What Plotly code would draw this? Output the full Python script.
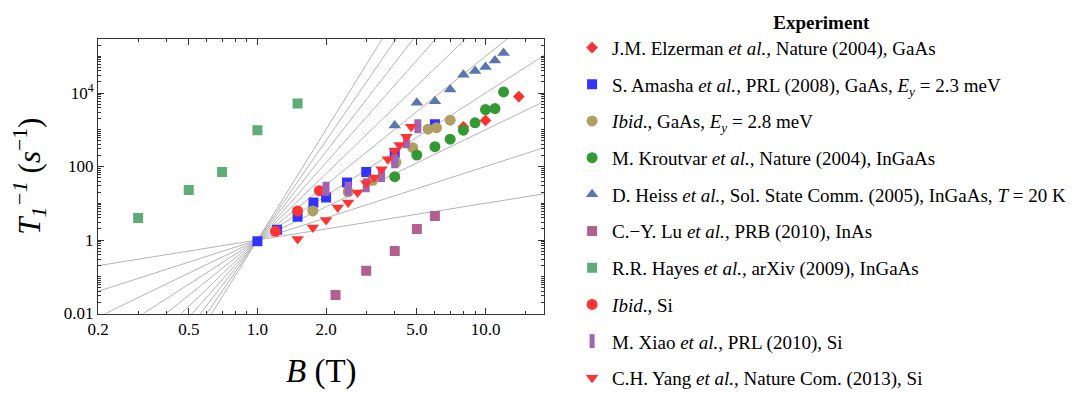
import numpy as np
import plotly.graph_objects as go

# ---- data ----
slopes = [1, 2, 3, 4, 5, 6, 7, 8, 9, 10]
guide_B = [0.1, 25.0]

elzerman_B = [8.0, 10.0, 14.0]
elzerman_r = [1200, 1800, 8000]

amasha_B = [1.0, 1.22, 1.5, 1.76, 2.0, 2.47, 3.0, 4.0, 6.0]
amasha_r = [0.92, 1.9, 4.3, 10.5, 14.4, 36.6, 71, 238, 1420]

ibid_gaas_B = [1.75, 2.5, 3.2, 4.05, 4.8, 5.6, 6.1, 7.0]
ibid_gaas_r = [6.2, 20.4, 42, 130, 325, 1040, 1130, 1820]

kroutvar_B = [4, 5, 6, 7, 8, 9, 10, 11, 12]
kroutvar_r = [53, 205, 346, 556, 975, 1550, 3550, 3780, 10700]

heiss_B = [4, 5, 6, 7, 8, 9, 10, 11, 12]
heiss_r = [1300, 5400, 6000, 12400, 31600, 40000, 51000, 77000, 122000]

lu_B = [2.2, 3.0, 4.0, 5.0, 6.0]
lu_r = [0.032, 0.145, 0.5, 2.0, 4.5]

hayes_B = [0.3, 0.5, 0.7, 1.0, 1.5]
hayes_r = [4, 23, 71, 975, 5160]

ibid_si_B = [1.2, 1.5, 1.87]
ibid_si_r = [1.72, 6.2, 22]

xiao_B = [2.0, 2.5, 3.0, 3.5, 4.0, 4.5, 5.05]
xiao_r = [25, 25, 31, 59, 138, 490, 1250]

yang_B = [1.5, 1.75, 2.0, 2.25, 2.5, 2.75, 3.0, 3.25, 3.5, 3.73, 4.0, 4.2, 4.5, 4.72]
yang_r = [1.06, 2.2, 3.5, 7.7, 10.5, 19.6, 35, 50, 84, 157, 264, 383, 646, 1200]

x_tickvals = [0.2, 0.5, 1.0, 2.0, 5.0, 10.0]
x_ticktext = ["0.2", "0.5", "1.0", "2.0", "5.0", "10.0"]
y_tickvals = [0.01, 1, 100, 1e4]
y_ticktext = ["0.01", "1", "100", "10<sup>4</sup>"]

FONT = "Liberation Serif, Times New Roman, serif"

fig = go.Figure()

for n in slopes:
    fig.add_trace(go.Scatter(
        x=guide_B, y=[b ** n for b in guide_B], mode="lines",
        line=dict(color="#b4b4b4", width=1), showlegend=False, hoverinfo="skip"))

series = [
    ("J.M. Elzerman <i>et al.</i>, Nature (2004), GaAs", elzerman_B, elzerman_r, "diamond", "#ff3030", 9),
    ("S. Amasha <i>et al.</i>, PRL (2008), GaAs, <i>E<sub>y</sub></i> = 2.3 meV", amasha_B, amasha_r, "square", "#3333ff", 10),
    ("<i>Ibid</i>., GaAs, <i>E<sub>y</sub></i> = 2.8 meV", ibid_gaas_B, ibid_gaas_r, "circle", "#ae9f62", 11),
    ("M. Kroutvar <i>et al.</i>, Nature (2004), InGaAs", kroutvar_B, kroutvar_r, "circle", "#339933", 11),
    ("D. Heiss <i>et al.</i>, Sol. State Comm. (2005), InGaAs, <i>T</i> = 20 K", heiss_B, heiss_r, "triangle-up", "#5b76ae", 11),
    ("C.\u2212Y. Lu <i>et al.</i>, PRB (2010), InAs", lu_B, lu_r, "square", "#b3608e", 10),
    ("R.R. Hayes <i>et al.</i>, arXiv (2009), InGaAs", hayes_B, hayes_r, "square", "#5fac77", 10),
    ("<i>Ibid</i>., Si", ibid_si_B, ibid_si_r, "circle", "#ff3333", 11),
    ("M. Xiao <i>et al.</i>, PRL (2010), Si", xiao_B, xiao_r, "line-ns", "#a065b2", 10),
    ("C.H. Yang <i>et al.</i>, Nature Com. (2013), Si", yang_B, yang_r, "triangle-down", "#ff3333", 11),
]

for i, (name, bx, ry, sym, col, sz) in enumerate(series):
    if sym == "line-ns":
        marker = dict(symbol=sym, size=sz, color=col, line=dict(width=7, color=col))
    else:
        marker = dict(symbol=sym, size=sz, color=col, line=dict(width=0))
    fig.add_trace(go.Scatter(x=bx, y=ry, mode="markers", name=name, marker=marker,
                             legendgroup="g%d" % i))

y_minor = [m * 10.0 ** k for k in range(-2, 6) for m in range(1, 10)
           if not (m == 1 and k in (-2, 0, 2, 4))]
x_minor = [0.3, 0.4, 0.6, 0.7, 0.8, 0.9, 3, 4, 6, 7, 8, 9, 15]

axis_common = dict(
    showgrid=False, zeroline=False, showline=True, linecolor="#333333", linewidth=1,
    mirror="allticks", ticks="inside", ticklen=6, tickwidth=1, tickcolor="#333333",
    tickfont=dict(family=FONT, size=17, color="black"),
)

H = 394.0
fig.update_xaxes(type="log", range=[np.log10(0.2), np.log10(18.05)],
                 tickmode="array", tickvals=x_tickvals, ticktext=x_ticktext,
                 minor=dict(tickmode="array", tickvals=x_minor, ticks="inside", ticklen=3,
                            tickcolor="#333333", showgrid=False),
                 **axis_common)
fig.update_yaxes(type="log", range=[-2, 5.47],
                 domain=[(H - 313.5) / H, (H - 39) / H],
                 tickmode="array", tickvals=y_tickvals, ticktext=y_ticktext,
                 minor=dict(tickmode="array", tickvals=y_minor, ticks="inside", ticklen=3,
                            tickcolor="#333333", showgrid=False),
                 **axis_common)

fig.update_layout(
    width=1092, height=394,
    margin=dict(l=98, r=548, t=0, b=0, autoexpand=False),
    paper_bgcolor="white", plot_bgcolor="white",
    font=dict(family=FONT, color="black"),
    legend=dict(
        x=1.063, xanchor="left", y=(H - 4) / H, yanchor="top",
        font=dict(family=FONT, size=19, color="black"),
        title=dict(text="<b>Experiment</b>", side="top center",
                   font=dict(family=FONT, size=19, color="black")),
        tracegroupgap=9, bgcolor="rgba(0,0,0,0)",
    ),
    annotations=[
        dict(text="<i>B</i> (T)", xref="paper", yref="paper", x=0.5, y=(H - 371) / H,
             xanchor="center", yanchor="middle", showarrow=False,
             font=dict(family=FONT, size=33, color="black")),
        dict(text="<i>T</i><sub><i>1</i></sub><sup><i>\u22121</i></sup> (<i>s</i><sup>\u22121</sup>)",
             xref="paper", yref="paper", x=-0.153, y=(H - 176) / H, textangle=-90,
             xanchor="center", yanchor="middle", showarrow=False,
             font=dict(family=FONT, size=31, color="black")),
    ],
)

fig.write_html("out.html", config={"displayModeBar": False},
               post_script="document.body.style.margin='0';document.body.style.overflow='hidden';")
